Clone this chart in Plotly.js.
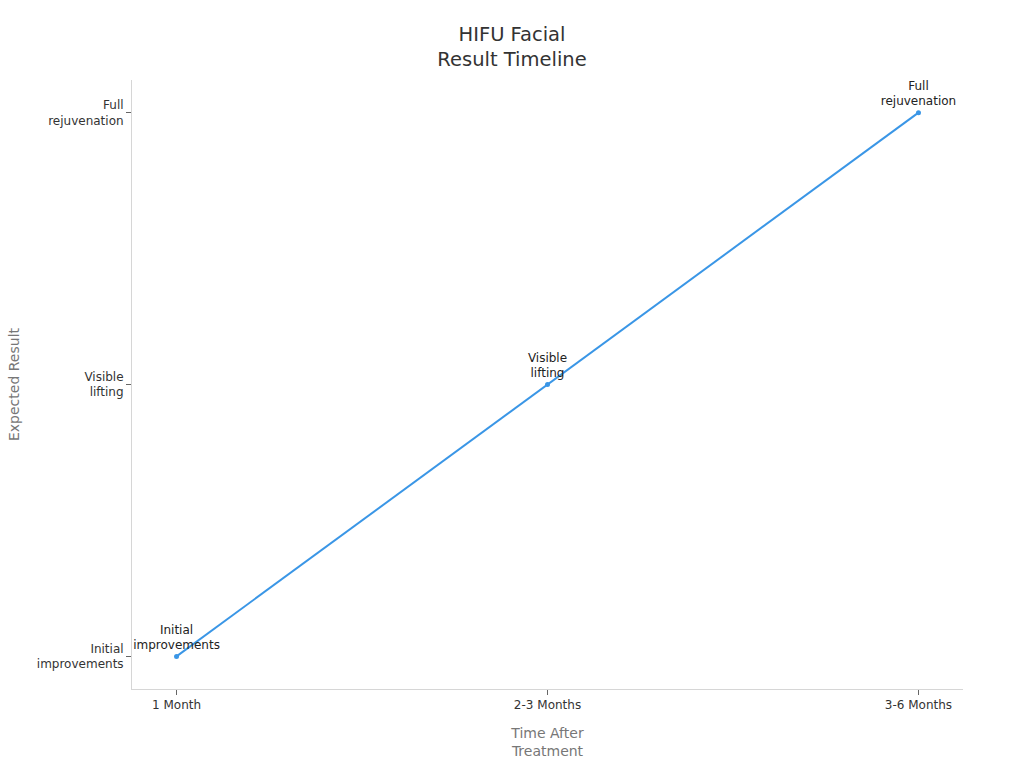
<!DOCTYPE html>
<html>
<head>
<meta charset="utf-8">
<script src="https://cdn.plot.ly/plotly-3.0.1.min.js"></script>
<style>
  html, body { margin: 0; padding: 0; background: #fff; }
  #plot { width: 1024px; height: 768px; }
</style>
</head>
<body>
<div id="plot"></div>
<script>
const timePoints = ["1 Month", "2-3 Months", "3-6 Months"];
const resultLevels = ["Initial<br>improvements", "Visible<br>lifting", "Full<br>rejuvenation"];
const pointResults = ["Initial<br>improvements", "Visible<br>lifting", "Full<br>rejuvenation"];
const pointLabels = ["Initial<br>improvements", "Visible<br>lifting", "Full<br>rejuvenation"];

const lineColor = "#3a96e6";

const traces = [{
  type: "scatter",
  mode: "lines+markers+text",
  x: timePoints,
  y: pointResults,
  text: pointLabels,
  textposition: "top center",
  textfont: { family: "DejaVu Sans", size: 12, color: "#222" },
  line: { color: lineColor, width: 2 },
  marker: { color: lineColor, size: 5 },
  hoverinfo: "skip",
  cliponaxis: false,
  showlegend: false
}];

const layout = {
  width: 1024,
  height: 768,
  margin: { l: 132, r: 61, t: 80, b: 79 },
  paper_bgcolor: "#fff",
  plot_bgcolor: "#fff",
  font: { family: "DejaVu Sans", size: 12, color: "#333" },
  title: {
    text: "HIFU Facial<br>Result Timeline",
    x: 0.5,
    xanchor: "center",
    y: 0.947,
    yanchor: "middle",
    font: { family: "DejaVu Sans", size: 19.5, color: "#333" }
  },
  xaxis: {
    type: "category",
    categoryarray: timePoints,
    range: [-0.12, 2.12],
    showgrid: false,
    zeroline: false,
    showline: true,
    linecolor: "#d6d6d6",
    linewidth: 1,
    ticks: "outside",
    ticklen: 5,
    tickcolor: "#666",
    tickfont: { size: 12, color: "#333" },
    title: {
      text: "Time After<br>Treatment",
      font: { size: 14, color: "#777" },
      standoff: 16
    }
  },
  yaxis: {
    type: "category",
    categoryarray: resultLevels,
    range: [-0.12, 2.12],
    showgrid: false,
    zeroline: false,
    showline: true,
    linecolor: "#d6d6d6",
    linewidth: 1,
    ticks: "outside",
    ticklen: 5,
    tickcolor: "#666",
    tickfont: { size: 12, color: "#333" },
    title: {
      text: "Expected Result",
      font: { size: 14, color: "#777" },
      standoff: 13
    }
  }
};

Plotly.newPlot("plot", traces, layout, { displayModeBar: false, staticPlot: true });
</script>
</body>
</html>
